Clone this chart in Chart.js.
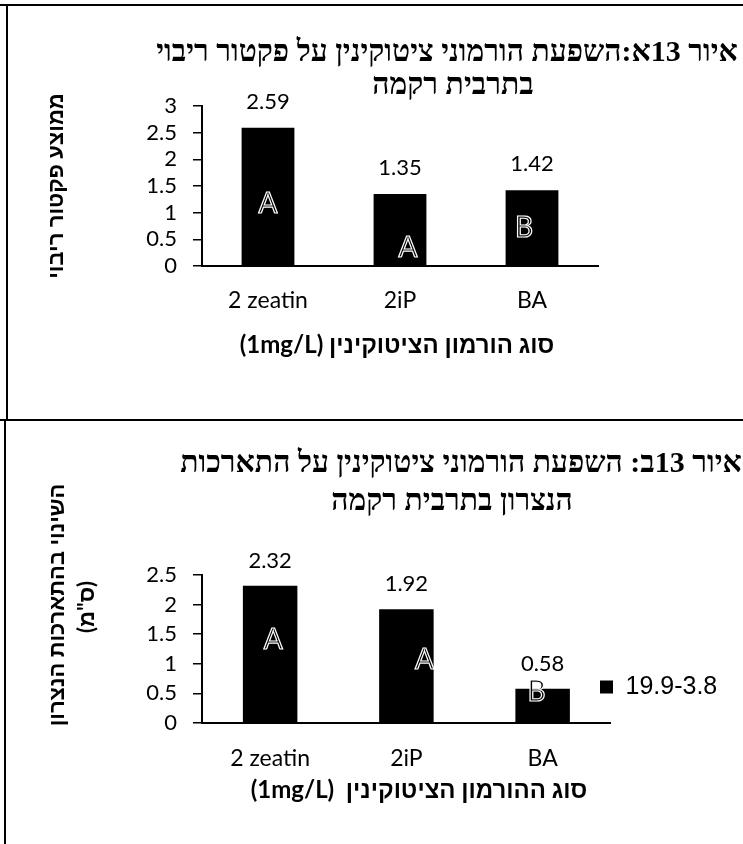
<!DOCTYPE html>
<html>
<head>
<meta charset="utf-8">
<script src="https://cdn.jsdelivr.net/npm/chart.js@4.4.1/dist/chart.umd.min.js"></script>
<style>
  html, body { margin: 0; padding: 0; background: #fff; }
  body { width: 743px; height: 844px; position: relative; overflow: hidden; }
  canvas { position: absolute; left: 0; }
  #multChart { top: 0; }
  #growthChart { top: 420px; }
  .rule { position: absolute; background: #000; z-index: 2; }
</style>
</head>
<body>
<canvas id="multChart" width="743" height="420"></canvas>
<canvas id="growthChart" width="743" height="424"></canvas>
<div class="rule" style="left:0;top:4px;width:743px;height:2px"></div>
<div class="rule" style="left:6px;top:4px;width:2px;height:416px"></div>
<div class="rule" style="left:0;top:419px;width:743px;height:2px"></div>
<div class="rule" style="left:4px;top:419px;width:2px;height:425px"></div>
<script>
// Cytokinin treatments (1 mg/L)
const categories = ['2 zeatin', '2iP', 'BA'];

// Fig. 13a: mean multiplication factor
const multFactor = [2.59, 1.35, 1.42];
const multGroups = ['A', 'A', 'B'];
const multTicks = [0, 0.5, 1, 1.5, 2, 2.5, 3];

// Fig. 13b: change in shoot elongation (cm)
const shootGrowth = [2.32, 1.92, 0.58];
const growthGroups = ['A', 'A', 'B'];
const growthTicks = [0, 0.5, 1, 1.5, 2, 2.5];
const seriesName = '19.9-3.8';

const multTitle = ['איור 13א:השפעת הורמוני ציטוקינין על פקטור ריבוי', 'בתרבית רקמה'];
const multYTitle = ['ממוצע פקטור ריבוי'];
const multXTitle = 'סוג הורמון הציטוקינין (1mg/L)';

const growthTitle = ['איור 13ב: השפעת הורמוני ציטוקינין על התארכות', 'הנצרון בתרבית רקמה'];
const growthYTitle = ['השינוי בהתארכות הנצרון', '(ס"מ)'];
const growthXTitle = 'סוג ההורמון הציטוקינין  (1mg/L)';

const LATIN = 'Lato';

// Titles, value labels and significance letters drawn on top of the bars
function decorations(o) {
  return {
    id: 'decorations',
    afterLayout(chart) {
      // let the legend start a little left of the plot's right edge
      const lg = chart.legend;
      if (lg && lg.options.display && o.legendLeft !== undefined) {
        const dx = lg.left - o.legendLeft;
        lg.left -= dx;
        lg.width += dx;
      }
    },
    afterDraw(chart) {
      const ctx = chart.ctx;
      const bars = chart.getDatasetMeta(0).data;
      const yScale = chart.scales.y;
      ctx.save();
      ctx.fillStyle = '#000';
      ctx.textAlign = 'center';
      ctx.textBaseline = 'middle';

      ctx.direction = 'ltr';
      ctx.font = '22px ' + LATIN;
      bars.forEach((bar, i) => {
        ctx.fillText(o.values[i].toFixed(2), bar.x, bar.y - o.valueGap);
      });

      ctx.font = '28px ' + LATIN;
      ctx.lineWidth = 1.2;
      ctx.strokeStyle = '#fff';
      bars.forEach((bar, i) => {
        const px = bar.x + o.letterShift[i];
        const py = yScale.getPixelForValue(o.letterAt[i]);
        ctx.fillText(o.groups[i], px, py);
        ctx.strokeText(o.groups[i], px, py);
      });

      ctx.direction = 'rtl';
      ctx.font = 'bold ' + o.titleSize + 'px "Liberation Serif"';
      o.title.forEach((t, i) => ctx.fillText(t, o.titleAt[i][0], o.titleAt[i][1]));

      ctx.font = 'bold ' + o.xTitleSize + 'px ' + LATIN + ', "Liberation Sans"';
      ctx.fillText(o.xTitle, o.xTitleAt[0], o.xTitleAt[1]);
      ctx.font = 'bold 22px ' + LATIN + ', "Liberation Sans"';
      o.yTitle.forEach((t, i) => {
        ctx.save();
        ctx.translate(o.yTitleAt[i][0], o.yTitleAt[i][1]);
        ctx.rotate(-Math.PI / 2);
        ctx.fillText(t, 0, 0);
        ctx.restore();
      });
      ctx.restore();
    }
  };
}

function barChart(id, o) {
  return new Chart(document.getElementById(id), {
    type: 'bar',
    data: {
      labels: categories,
      datasets: [{
        label: seriesName,
        data: o.values,
        backgroundColor: '#000',
        borderWidth: 0,
        categoryPercentage: 1,
        barPercentage: 0.4
      }]
    },
    options: {
      responsive: false,
      animation: false,
      events: [],
      layout: { padding: o.padding },
      plugins: {
        legend: o.legend,
        tooltip: { enabled: false },
        title: { display: false }
      },
      scales: {
        x: {
          grid: { display: false, drawTicks: false },
          border: { display: true, color: '#000', width: 2 },
          ticks: { color: '#000', font: { family: LATIN, size: 23 }, padding: o.xPad, maxRotation: 0, autoSkip: false },
          afterFit: s => { s.height = o.xHeight; }
        },
        y: {
          min: 0,
          max: o.ticks[o.ticks.length - 1],
          afterBuildTicks: s => { s.ticks = o.ticks.map(v => ({ value: v })); },
          grid: { display: true, drawOnChartArea: false, drawTicks: true, tickLength: 9, color: '#000', lineWidth: 1.5 },
          border: { display: true, color: '#000', width: 2 },
          ticks: {
            color: '#000',
            font: { family: LATIN, size: 22 },
            padding: 16,
            autoSkip: false,
            callback: v => String(v)
          },
          afterFit: s => { s.width = o.yWidth; }
        }
      }
    },
    plugins: [decorations(o)]
  });
}

barChart('multChart', {
  values: multFactor,
  groups: multGroups,
  ticks: multTicks,
  padding: { left: 0, top: 106, right: 145, bottom: 0 },
  yWidth: 202,
  xHeight: 154,
  xPad: 21,
  legend: { display: false },
  valueGap: 26,
  letterAt: [1.16, 0.34, 0.72],
  letterShift: [0, 8, -8],
  title: multTitle,
  titleSize: 30,
  titleAt: [[447, 53], [453, 86]],
  xTitle: multXTitle,
  xTitleSize: 24,
  xTitleAt: [397, 345],
  yTitle: multYTitle,
  yTitleAt: [[56, 186]]
});

barChart('growthChart', {
  values: shootGrowth,
  groups: growthGroups,
  ticks: growthTicks,
  padding: { left: 0, top: 155, right: 5, bottom: 45 },
  yWidth: 202,
  xHeight: 76,
  xPad: 22,
  legend: {
    display: true,
    position: 'right',
    align: 'center',
    fullSize: true,
    labels: { boxWidth: 13, boxHeight: 13, padding: 0, color: '#000', font: { family: 'Liberation Sans', size: 25 } }
  },
  legendLeft: 600,
  valueGap: 25,
  letterAt: [1.4, 1.06, 0.52],
  letterShift: [3, 18, -6],
  title: growthTitle,
  titleSize: 30,
  titleAt: [[461, 44], [452, 82]],
  xTitle: growthXTitle,
  xTitleSize: 24,
  xTitleAt: [419, 370],
  yTitle: growthYTitle,
  yTitleAt: [[57, 185], [87, 187]]
});
</script>
</body>
</html>
